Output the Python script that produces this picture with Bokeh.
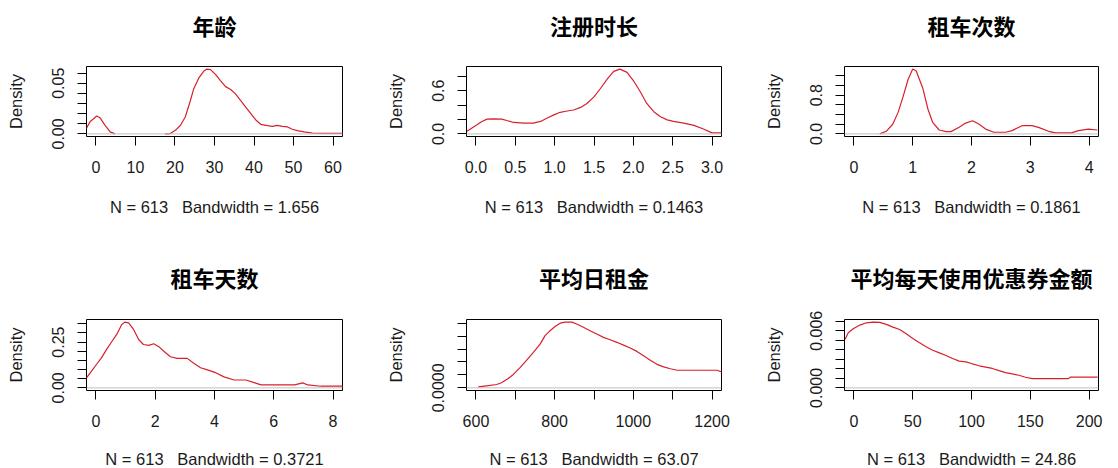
import math

from bokeh.plotting import figure
from bokeh.layouts import gridplot
from bokeh.models import Range1d, FixedTicker, Span, Label
from bokeh.embed import file_html
from bokeh.resources import INLINE

NAN = float("nan")

# ---- data: kernel density estimates (N = 613) ----
n_obs = 613
titles = ["年龄", "注册时长", "租车次数", "租车天数", "平均日租金", "平均每天使用优惠券金额"]
bandwidths = ["1.656", "0.1463", "0.1861", "0.3721", "63.07", "24.86"]
x_limits = [(0, 60), (0, 3), (0, 4), (0, 8), (600, 1200), (0, 200)]

# NaN marks the stretch where the estimate is flat on zero (hidden by the zero line)
age_x = [-2.5, -1.5, 0.2, 1.0, 2.3, 3.6, 4.8, 11.0, 17.5, 18.8, 20.1, 21.4, 22.6, 23.9, 24.7,
         26.0, 27.3, 28.1, 29.0, 30.3, 31.5, 32.8, 34.1, 35.3, 36.6, 37.9, 39.2, 40.4, 41.7,
         43.4, 44.7, 45.9, 47.2, 48.5, 49.7, 51.0, 52.7, 54.8, 57.0, 62.6]
age_y = [0.005, 0.012, 0.0176, 0.016, 0.0085, 0.002, 0.0, NAN, 0.0, 0.0003, 0.0035, 0.0085,
         0.0167, 0.033, 0.044, 0.055, 0.062, 0.064, 0.0635, 0.0585, 0.0526, 0.0467, 0.0438,
         0.0395, 0.033, 0.0265, 0.020, 0.014, 0.0095, 0.0082, 0.0075, 0.0085, 0.0075, 0.0069,
         0.0046, 0.0033, 0.002, 0.0008, 0.0005, 0.0005]

reg_x = [-0.114, -0.05, 0.013, 0.076, 0.14, 0.22, 0.33, 0.39, 0.48, 0.61, 0.73, 0.82, 0.90,
         0.99, 1.07, 1.16, 1.24, 1.33, 1.41, 1.50, 1.58, 1.67, 1.75, 1.83, 1.92, 2.00, 2.09,
         2.17, 2.26, 2.34, 2.43, 2.51, 2.64, 2.77, 2.89, 3.00, 3.127]
reg_y = [0.036, 0.082, 0.127, 0.173, 0.205, 0.209, 0.205, 0.186, 0.159, 0.150, 0.150, 0.173,
         0.218, 0.264, 0.300, 0.318, 0.332, 0.368, 0.423, 0.514, 0.627, 0.764, 0.868, 0.900,
         0.855, 0.741, 0.582, 0.423, 0.309, 0.241, 0.195, 0.173, 0.150, 0.118, 0.068, 0.014,
         0.014]

rent_n_x = [0.44, 0.55, 0.66, 0.75, 0.83, 0.92, 1.00, 1.06, 1.17, 1.26, 1.34, 1.45, 1.57,
            1.65, 1.79, 1.90, 2.02, 2.13, 2.24, 2.38, 2.58, 2.69, 2.86, 3.03, 3.14, 3.31, 3.43,
            3.70, 3.82, 3.99, 4.14]
rent_n_y = [0.0, 0.054, 0.2, 0.44, 0.746, 1.12, 1.34, 1.30, 0.95, 0.51, 0.237, 0.081, 0.047,
            0.047, 0.136, 0.224, 0.271, 0.2, 0.1, 0.034, 0.034, 0.068, 0.17, 0.17, 0.136, 0.054,
            0.02, 0.02, 0.068, 0.1, 0.081]

days_x = [-0.34, -0.15, 0.02, 0.19, 0.36, 0.53, 0.70, 0.87, 0.98, 1.10, 1.27, 1.44, 1.60, 1.78,
          1.95, 2.12, 2.28, 2.51, 2.74, 3.08, 3.30, 3.53, 3.76, 4.04, 4.32, 4.66, 5.06, 5.34,
          5.57, 6.70, 6.98, 7.15, 7.60, 8.34]
days_y = [0.051, 0.092, 0.129, 0.165, 0.21, 0.252, 0.292, 0.346, 0.359, 0.355, 0.319, 0.264,
          0.237, 0.232, 0.241, 0.225, 0.201, 0.17, 0.161, 0.161, 0.134, 0.11, 0.098, 0.083, 0.06,
          0.043, 0.043, 0.029, 0.016, 0.016, 0.027, 0.016, 0.009, 0.009]

price_x = [606, 627, 652.6, 665, 682, 695, 712, 729, 746, 763, 775.7, 788.4, 801, 814,
           826.6, 843.6, 856, 873, 890, 907, 924, 941, 958, 975, 992, 1009, 1026, 1043, 1060,
           1077, 1094, 1111, 1145, 1187, 1213, 1225.5]
price_y = [0.00004, 0.00008, 0.00013, 0.0002, 0.00036, 0.00052, 0.00078, 0.00107, 0.00137,
           0.00169, 0.00202, 0.00221, 0.00237, 0.0025, 0.00254, 0.00254, 0.00247, 0.00234,
           0.00221, 0.00208, 0.00195, 0.00186, 0.00176, 0.00165, 0.00154, 0.00141, 0.00124,
           0.00107, 0.00091, 0.00081, 0.00074, 0.00068, 0.00068, 0.00068, 0.00068, 0.00061]

coupon_x = [-7.6, -4.8, -0.6, 5.1, 10.7, 16.3, 22.0, 27.6, 33.2, 38.9, 44.5, 50.1, 55.8, 61.4,
            67.0, 72.7, 78.3, 83.9, 89.6, 95.2, 100.8, 106.5, 112.1, 117.7, 123.4, 129.0, 134.6,
            140.3, 145.9, 151.5, 162.8, 174.1, 182.5, 184.0, 207.3]
coupon_y = [0.00509, 0.00579, 0.00621, 0.0066, 0.00684, 0.00691, 0.00688, 0.00667, 0.00639,
            0.00614, 0.00568, 0.00519, 0.00474, 0.00432, 0.00396, 0.00368, 0.0034, 0.00309,
            0.00281, 0.00274, 0.00253, 0.00232, 0.00218, 0.00204, 0.00182, 0.00161, 0.00147,
            0.00133, 0.00112, 0.00098, 0.00098, 0.00098, 0.00098, 0.00112, 0.00112]

# ---- axis ticks and the labels that are printed ----
x_ticks = [
    [0, 10, 20, 30, 40, 50, 60],
    [0.0, 0.5, 1.0, 1.5, 2.0, 2.5, 3.0],
    [0, 1, 2, 3, 4],
    [0, 2, 4, 6, 8],
    [600, 700, 800, 900, 1000, 1100, 1200],
    [0, 50, 100, 150, 200],
]
x_tick_labels = [
    ["0", "10", "20", "30", "40", "50", "60"],
    ["0.0", "0.5", "1.0", "1.5", "2.0", "2.5", "3.0"],
    ["0", "1", "2", "3", "4"],
    ["0", "2", "4", "6", "8"],
    ["600", "", "800", "", "1000", "", "1200"],
    ["0", "50", "100", "150", "200"],
]
y_ticks = [
    [0.0, 0.01, 0.02, 0.03, 0.04, 0.05, 0.06],
    [0.0, 0.2, 0.4, 0.6, 0.8],
    [0.0, 0.2, 0.4, 0.6, 0.8, 1.0, 1.2],
    [0.0, 0.05, 0.1, 0.15, 0.2, 0.25, 0.3, 0.35],
    [0.0, 0.0005, 0.001, 0.0015, 0.002, 0.0025],
    [0.0, 0.001, 0.002, 0.003, 0.004, 0.005, 0.006, 0.007],
]
y_tick_labels = [
    ["0.00", "", "", "", "", "0.05", ""],
    ["0.0", "", "", "0.6", ""],
    ["0.0", "", "", "", "0.8", "", ""],
    ["0.00", "", "", "", "", "0.25", "", ""],
    ["0.0000", "", "", "", "", ""],
    ["0.000", "", "", "", "", "", "0.006", ""],
]

curves = [(age_x, age_y), (reg_x, reg_y), (rent_n_x, rent_n_y),
          (days_x, days_y), (price_x, price_y), (coupon_x, coupon_y)]

# ---- page geometry (pixels) ----
col_left = [86, 93, 98]
col_frame_w = [256, 255, 254]
col_right = [31, 25, 20]
row_top = [66, 85]
row_frame_h = [70, 71]
row_bottom = [98, 78]
row_title_gap = [42, 43]     # title centre above the frame
row_caption_gap = [70, 68]   # caption centre below the frame
title_slot = 32              # height the title takes in the panel above the frame

TEXT_FONT = "Liberation Sans"
CJK_FONT = "Noto Sans CJK SC"
INK = "#1a1a1a"
GAP = "\u00a0\u00a0 "   # keeps the three-space gap of the density caption


def density_panel(i):
    r, c = divmod(i, 3)
    xs, ys = curves[i]
    lo, hi = x_limits[i]
    pad = 0.04 * (hi - lo)
    ymax = max(v for v in ys if v == v)
    fw, fh = col_frame_w[c], row_frame_h[r]
    p = figure(
        width=col_left[c] + fw + col_right[c],
        height=row_top[r] + fh + row_bottom[r],
        min_border_left=col_left[c], min_border_right=col_right[c],
        min_border_top=row_top[r], min_border_bottom=row_bottom[r],
        x_range=Range1d(lo - pad, hi + pad),
        y_range=Range1d(-0.04 * ymax, 1.04 * ymax),
        output_backend="svg", toolbar_location=None, title=None,
    )
    p.background_fill_color = "white"
    p.border_fill_color = "white"
    p.outline_line_color = "black"
    p.outline_line_width = 1
    p.xgrid.visible = False
    p.ygrid.visible = False

    p.line(xs, ys, line_color="#d6212c", line_width=1.2)
    p.add_layout(Span(location=0, dimension="width", line_color="#bebebe", line_width=1))

    for ax in (p.xaxis[0], p.yaxis[0]):
        ax.axis_line_color = None
        ax.major_tick_in = 0
        ax.major_tick_out = 9
        ax.major_tick_line_color = "black"
        ax.minor_tick_line_color = None
        ax.major_label_text_font = TEXT_FONT
        ax.major_label_text_font_size = "16px"
        ax.major_label_text_color = INK

    xa = p.xaxis[0]
    xa.ticker = FixedTicker(ticks=x_ticks[i])
    xa.major_label_overrides = dict(zip(x_ticks[i], x_tick_labels[i]))
    xa.major_label_standoff = 15

    ya = p.yaxis[0]
    ya.ticker = FixedTicker(ticks=y_ticks[i])
    ya.major_label_overrides = dict(zip(y_ticks[i], y_tick_labels[i]))
    ya.major_label_orientation = "vertical"
    ya.major_label_standoff = 13
    ya.axis_label = "Density"
    ya.axis_label_standoff = 25
    ya.axis_label_text_font = TEXT_FONT
    ya.axis_label_text_font_size = "16.5px"
    ya.axis_label_text_font_style = "normal"
    ya.axis_label_text_color = INK

    # main title (next to the frame) and density caption (stacked after the title,
    # so its distance is counted from the top of the title's slot)
    p.add_layout(Label(x=fw / 2, y=row_title_gap[r], x_units="screen", y_units="screen",
                       text=titles[i], text_align="center", text_baseline="middle",
                       text_font=CJK_FONT, text_font_size="22px", text_font_style="bold",
                       text_color="black"), "above")
    p.add_layout(Label(x=fw / 2, y=-(fh + row_caption_gap[r] + title_slot),
                       x_units="screen", y_units="screen",
                       text=f"N = {n_obs}{GAP}Bandwidth = {bandwidths[i]}",
                       text_align="center", text_baseline="middle",
                       text_font=TEXT_FONT, text_font_size="16.5px", text_color=INK),
                 "above")
    return p


panels = [density_panel(i) for i in range(6)]
grid = gridplot([panels[0:3], panels[3:6]], toolbar_location=None)

open("out.html", "w").write(file_html(grid, INLINE))
